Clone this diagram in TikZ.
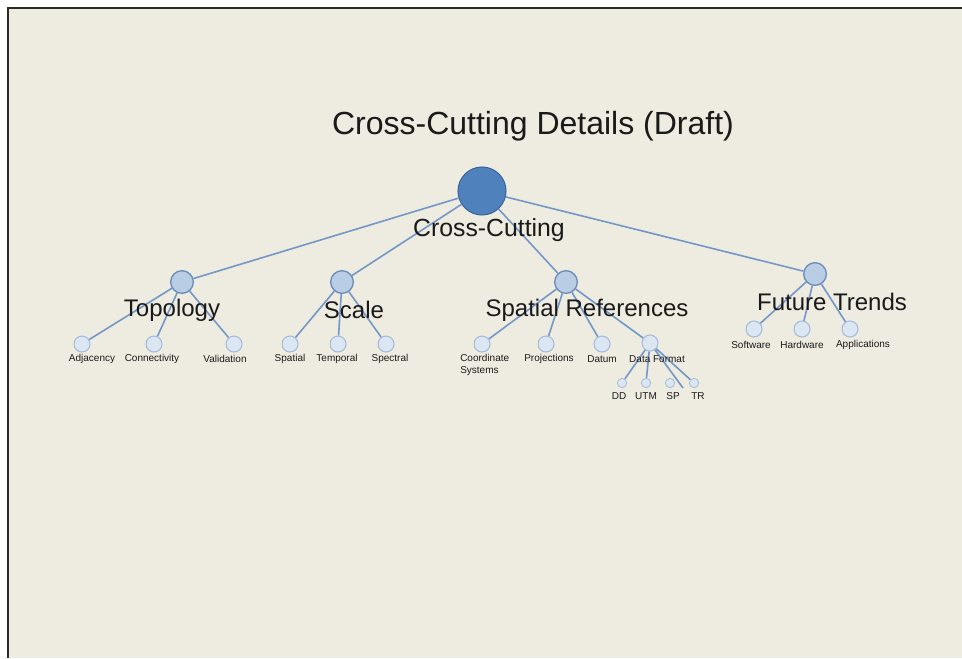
\documentclass[tikz,border=0pt]{standalone}
\usepackage{fontspec}
\setmainfont{Liberation Sans}
\definecolor{bgc}{HTML}{EEEBE0}
\definecolor{linec}{HTML}{7398C8}
\definecolor{rootfill}{HTML}{4F81BD}
\definecolor{rootdraw}{HTML}{3B6597}
\definecolor{lafill}{HTML}{B9CDE5}
\definecolor{ladraw}{HTML}{6A8DBA}
\definecolor{lbfill}{HTML}{DCE6F2}
\definecolor{lbdraw}{HTML}{A3BCDB}
\definecolor{txt}{HTML}{1A1A1A}
\definecolor{framec}{HTML}{2A2A2A}
\begin{document}
\begin{tikzpicture}[x=0.75pt,y=-0.75pt,
  rootc/.style={circle,fill=rootfill,draw=rootdraw,line width=0.8pt,minimum size=36pt,inner sep=0pt},
  lac/.style={circle,fill=lafill,draw=ladraw,line width=1pt,minimum size=17pt,inner sep=0pt},
  lbc/.style={circle,fill=lbfill,draw=lbdraw,line width=0.8pt,minimum size=12pt,inner sep=0pt},
  lcc/.style={circle,fill=lbfill,draw=lbdraw,line width=0.6pt,minimum size=7pt,inner sep=0pt},
  edge/.style={draw=linec,line width=1.2pt},
  titlelbl/.style={font=\fontsize{24}{28}\selectfont,text=txt,inner sep=0pt},
  rootlbl/.style={font=\fontsize{18.6}{22}\selectfont,text=txt,inner sep=0pt},
  biglbl/.style={font=\fontsize{18}{21}\selectfont,text=txt,inner sep=0pt},
  smalllbl/.style={font=\fontsize{7.5}{9}\selectfont,text=txt,inner sep=0pt}]
\useasboundingbox (0,0) rectangle (962,658);
\fill[white] (0,0) rectangle (962,658);
\fill[bgc] (8,8) rectangle (962,658);
\draw[framec,line width=1.6pt] (8,658) -- (8,8) -- (962,8);
% free end of a connector
\coordinate (dfx) at (683,388);
% nodes
\node[rootc] (root) at (482,191) {};
\node[lac] (topo) at (182,282) {};
\node[lac] (scale) at (342,282) {};
\node[lac] (spref) at (566,282) {};
\node[lac] (fut) at (815,274) {};
\node[lbc] (adj) at (82,344) {};
\node[lbc] (con) at (154,344) {};
\node[lbc] (val) at (234,344) {};
\node[lbc] (spa) at (290,344) {};
\node[lbc] (tem) at (338,344) {};
\node[lbc] (spe) at (386,344) {};
\node[lbc] (coo) at (482,344) {};
\node[lbc] (pro) at (546,344) {};
\node[lbc] (dat) at (602,344) {};
\node[lbc] (dfm) at (650,343) {};
\node[lbc] (sof) at (754,329) {};
\node[lbc] (har) at (802,329) {};
\node[lbc] (app) at (850,329) {};
\node[lcc] (dd) at (622,383) {};
\node[lcc] (utm) at (646,383) {};
\node[lcc] (sp) at (670,383) {};
\node[lcc] (tr) at (694,383) {};
% edges
\path[edge] (root) -- (topo) (root) -- (scale) (root) -- (spref) (root) -- (fut);
\path[edge] (topo) -- (adj) (topo) -- (con) (topo) -- (val);
\path[edge] (scale) -- (spa) (scale) -- (tem) (scale) -- (spe);
\path[edge] (spref) -- (coo) (spref) -- (pro) (spref) -- (dat) (spref) -- (dfm);
\path[edge] (fut) -- (sof) (fut) -- (har) (fut) -- (app);
\path[edge] (dfm) -- (dd) (dfm) -- (utm) (dfm) -- (dfx) (dfm) -- (tr);
% labels
\node[titlelbl] (title) at (533,126) {Cross-Cutting Details (Draft)};
\node[rootlbl] (lroot) at (489,230) {Cross-Cutting};
\node[biglbl] (ltopo) at (172,310) {Topology};
\node[biglbl] (lscale) at (354,310) {Scale};
\node[biglbl] (lspref) at (587,310) {Spatial References};
\node[biglbl] (lfut) at (832,302) {Future Trends};
\node[smalllbl] (ladj) at (92,359) {Adjacency};
\node[smalllbl] (lcon) at (152,359) {Connectivity};
\node[smalllbl] (lval) at (225,359) {Validation};
\node[smalllbl] (lspa) at (290,359) {Spatial};
\node[smalllbl] (ltem) at (337,359) {Temporal};
\node[smalllbl] (lspe) at (390,359) {Spectral};
\node[smalllbl,anchor=north west,align=left] (lcoo) at (460,354) {Coordinate\\Systems};
\node[smalllbl] (lpro) at (549,359) {Projections};
\node[smalllbl] (ldat) at (602,359) {Datum};
\node[smalllbl] (ldfm) at (657,359) {Data Format};
\node[smalllbl] (lsof) at (751,345) {Software};
\node[smalllbl] (lhar) at (802,345) {Hardware};
\node[smalllbl] (lapp) at (863,345) {Applications};
\node[smalllbl] (ldd) at (619,396) {DD};
\node[smalllbl] (lutm) at (646,396) {UTM};
\node[smalllbl] (lsp) at (673,396) {SP};
\node[smalllbl] (ltr) at (698,396) {TR};
\end{tikzpicture}
\end{document}
